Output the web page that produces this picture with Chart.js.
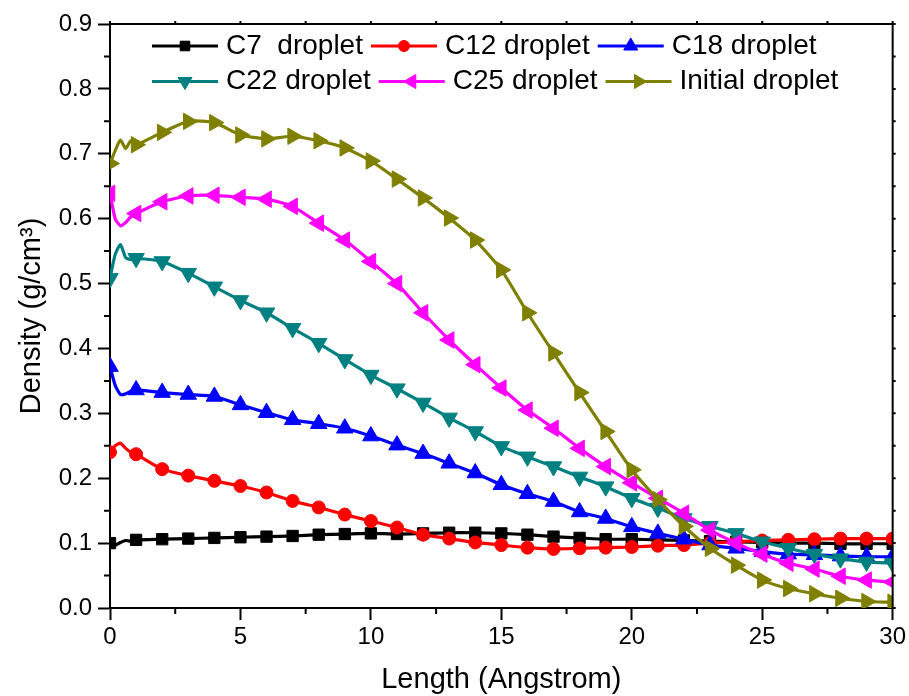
<!DOCTYPE html>
<html>
<head>
<meta charset="utf-8">
<script src="https://cdn.jsdelivr.net/npm/chart.js@4.4.0/dist/chart.umd.min.js"></script>
<style>
  html, body { margin: 0; padding: 0; background: #fff; }
</style>
</head>
<body>
<canvas id="density__chart" width="909" height="696"></canvas>
<script>
// x positions (Angstrom); markers sit on the whole numbers
var lengths = [0, 0.2, 0.4, 0.6, 0.8, 1, 2, 3, 4, 5, 6, 7, 8, 9, 10, 11, 12, 13, 14, 15,
               16, 17, 18, 19, 20, 21, 22, 23, 24, 25, 26, 27, 28, 29, 30];

var c7 = [0.100, 0.097, 0.101, 0.104, 0.103, 0.105, 0.106, 0.107, 0.108, 0.109, 0.110, 0.111,
          0.113, 0.114, 0.115, 0.114, 0.115, 0.116, 0.116, 0.115, 0.113, 0.110, 0.108, 0.106,
          0.106, 0.105, 0.104, 0.103, 0.102, 0.101, 0.100, 0.100, 0.099, 0.099, 0.099];
var c12 = [0.240, 0.250, 0.254, 0.246, 0.240, 0.237, 0.214, 0.204, 0.196, 0.188, 0.178, 0.165,
           0.155, 0.144, 0.134, 0.124, 0.113, 0.107, 0.101, 0.097, 0.093, 0.091, 0.092, 0.093,
           0.094, 0.096, 0.097, 0.100, 0.102, 0.104, 0.105, 0.106, 0.107, 0.107, 0.107];
var c18 = [0.372, 0.343, 0.329, 0.330, 0.334, 0.336, 0.332, 0.329, 0.326, 0.313, 0.301, 0.290,
           0.284, 0.277, 0.265, 0.251, 0.238, 0.223, 0.208, 0.190, 0.176, 0.164, 0.148, 0.138,
           0.125, 0.115, 0.106, 0.097, 0.092, 0.087, 0.083, 0.082, 0.080, 0.079, 0.079];
var c22 = [0.508, 0.545, 0.560, 0.540, 0.537, 0.539, 0.534, 0.516, 0.495, 0.474, 0.455, 0.431,
           0.408, 0.383, 0.359, 0.338, 0.316, 0.293, 0.272, 0.249, 0.233, 0.218, 0.202, 0.187,
           0.169, 0.154, 0.138, 0.126, 0.115, 0.102, 0.092, 0.083, 0.076, 0.071, 0.069];
var c25 = [0.639, 0.600, 0.589, 0.594, 0.603, 0.608, 0.626, 0.635, 0.636, 0.633, 0.630, 0.619,
           0.593, 0.567, 0.534, 0.500, 0.455, 0.413, 0.375, 0.339, 0.305, 0.277, 0.246, 0.218,
           0.193, 0.169, 0.146, 0.120, 0.100, 0.083, 0.069, 0.060, 0.049, 0.043, 0.040];
var initial = [0.685, 0.705, 0.721, 0.708, 0.720, 0.714, 0.733, 0.750, 0.748, 0.729, 0.723, 0.727,
               0.720, 0.709, 0.689, 0.661, 0.632, 0.601, 0.567, 0.521, 0.455, 0.393, 0.332, 0.272,
               0.213, 0.167, 0.126, 0.092, 0.066, 0.043, 0.030, 0.022, 0.015, 0.010, 0.009];

var seriesNames = ['C7  droplet', 'C12 droplet', 'C18 droplet', 'C22 droplet', 'C25 droplet', 'Initial droplet'];
var seriesData = [c7, c12, c18, c22, c25, initial];
var colors = ['#000000', '#FF0000', '#0000FF', '#008080', '#FF00FF', '#808000'];
var markers = ['rect', 'circle', 'triangle', 'triangle', 'triangle', 'triangle'];
var rotations = [0, 0, 0, 180, 270, 90];
var sizes = [8, 6.5, 9.5, 9.5, 9.5, 9.5];

var font = "'Liberation Sans', Arial, sans-serif";

var datasets = seriesNames.map(function (name, i) {
    return {
        label: name,
        data: lengths.map(function (x, j) { return {x: x, y: seriesData[i][j]}; }),
        borderColor: colors[i],
        backgroundColor: colors[i],
        pointBackgroundColor: colors[i],
        pointBorderColor: colors[i],
        borderWidth: 3.2,
        pointStyle: markers[i],
        rotation: rotations[i],
        pointRadius: function (ctx) {
            return Number.isInteger(lengths[ctx.dataIndex]) ? sizes[i] : 0;
        },
        pointBorderWidth: 1,
        tension: 0.2,
        order: seriesNames.length - i
    };
});

// frame, minor ticks and the line+marker legend
var framePlugin = {
    id: 'frame',
    afterDraw: function (chart) {
        var ctx = chart.ctx, a = chart.chartArea;
        var xs = chart.scales.x, ys = chart.scales.y;
        var v, p;
        ctx.save();
        ctx.strokeStyle = '#000';
        ctx.lineWidth = 2;
        ctx.beginPath();
        ctx.moveTo(a.left, a.top);
        ctx.lineTo(a.right, a.top);
        ctx.lineTo(a.right, a.bottom);
        for (v = 2.5; v < 30; v += 5) {
            p = xs.getPixelForValue(v);
            ctx.moveTo(p, a.bottom); ctx.lineTo(p, a.bottom + 6);
        }
        for (v = 0.05; v < 0.9; v += 0.1) {
            p = ys.getPixelForValue(v);
            ctx.moveTo(a.left, p); ctx.lineTo(a.left - 6, p);
        }
        for (v = 0; v <= 30; v += 2.5) {
            p = xs.getPixelForValue(v);
            ctx.moveTo(p, a.top); ctx.lineTo(p, a.top - 3);
        }
        for (v = 0; v <= 0.9001; v += 0.05) {
            p = ys.getPixelForValue(v);
            ctx.moveTo(a.right, p); ctx.lineTo(a.right + 3, p);
        }
        ctx.stroke();

        // legend: two rows of three
        ctx.font = '28px ' + font;
        ctx.textBaseline = 'middle';
        ctx.textAlign = 'left';
        var rowsY = [46, 81.5];
        for (var r = 0; r < 2; r++) {
            var x = 152;
            for (var c = 0; c < 3; c++) {
                var i = r * 3 + c;
                var y = rowsY[r];
                ctx.strokeStyle = colors[i];
                ctx.fillStyle = colors[i];
                ctx.lineWidth = 3.2;
                ctx.beginPath();
                ctx.moveTo(x, y); ctx.lineTo(x + 66, y);
                ctx.stroke();
                ctx.lineWidth = 1;
                Chart.helpers.drawPoint(ctx, {
                    pointStyle: markers[i], rotation: rotations[i],
                    radius: sizes[i] * 0.85, borderWidth: 1
                }, x + 33, y);
                ctx.fillStyle = '#000';
                ctx.fillText(seriesNames[i], x + 74, y);
                x = x + 74 + ctx.measureText(seriesNames[i]).width + 8;
            }
        }
        ctx.restore();
    }
};

var ctx = document.getElementById('density__chart').getContext('2d');
var densityChart = new Chart(ctx, {
    type: 'line',
    data: { datasets: datasets },
    options: {
        responsive: false,
        animation: false,
        events: [],
        layout: { padding: { left: 0, right: 16, top: 24, bottom: 0 } },
        plugins: {
            legend: { display: false },
            tooltip: { enabled: false }
        },
        scales: {
            x: {
                type: 'linear',
                min: 0,
                max: 30,
                afterFit: function (s) { s.height = 88; },
                ticks: {
                    stepSize: 5,
                    color: '#000',
                    padding: 3,
                    maxRotation: 0,
                    font: { family: font, size: 24 }
                },
                grid: { drawOnChartArea: false, tickLength: 12, tickWidth: 2, tickColor: '#000' },
                border: { color: '#000', width: 2 },
                title: {
                    display: true,
                    text: 'Length (Angstrom)',
                    color: '#000',
                    padding: { top: 0, bottom: 0 },
                    font: { family: font, size: 29, lineHeight: 1.1 }
                }
            },
            y: {
                min: 0,
                max: 0.9,
                afterFit: function (s) { s.width = 110; },
                ticks: {
                    stepSize: 0.1,
                    color: '#000',
                    padding: 6,
                    font: { family: font, size: 24 },
                    callback: function (v) { return v.toFixed(1); }
                },
                grid: { drawOnChartArea: false, tickLength: 12, tickWidth: 2, tickColor: '#000' },
                border: { color: '#000', width: 2 },
                title: {
                    display: true,
                    text: 'Density (g/cm³)',
                    color: '#000',
                    padding: { top: 15, bottom: 0 },
                    font: { family: font, size: 29, lineHeight: 1.2 }
                }
            }
        }
    },
    plugins: [framePlugin]
});
</script>
</body>
</html>
